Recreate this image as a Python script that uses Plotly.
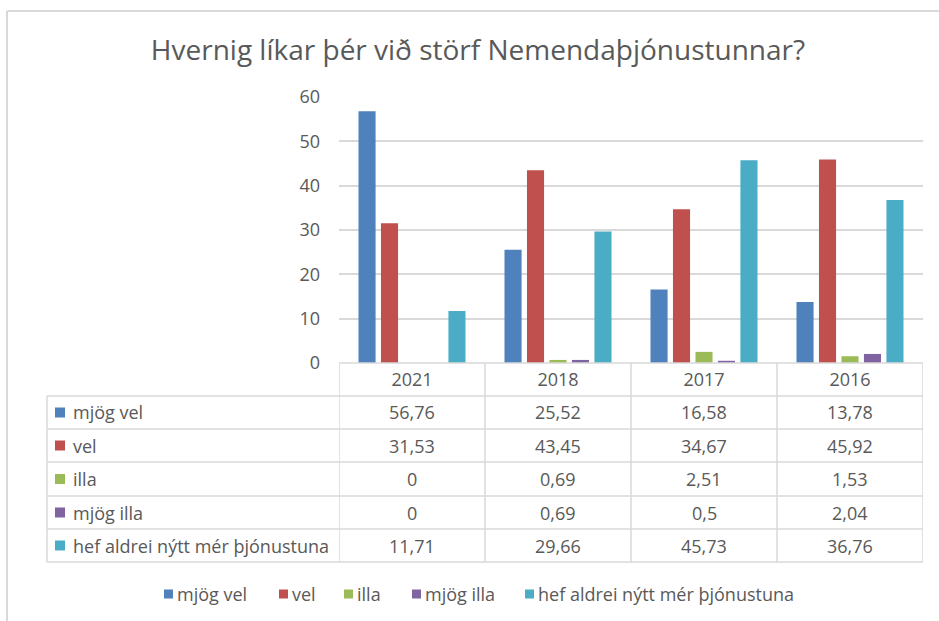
import plotly.graph_objects as go

# ---------------- data ----------------
categories = ["2021", "2018", "2017", "2016"]
series_names = ["mjög vel", "vel", "illa", "mjög illa", "hef aldrei nýtt mér þjónustuna"]
mjog_vel = [56.76, 25.52, 16.58, 13.78]
vel = [31.53, 43.45, 34.67, 45.92]
illa = [0, 0.69, 2.51, 1.53]
mjog_illa = [0, 0.69, 0.5, 2.04]
hef_aldrei = [11.71, 29.66, 45.73, 36.76]
y_ticks = [0, 10, 20, 30, 40, 50, 60]
title_text = "Hvernig líkar þér við störf Nemendaþjónustunnar?"

series_values = [mjog_vel, vel, illa, mjog_illa, hef_aldrei]
colors = ["#4F81BD", "#C0504D", "#9BBB59", "#8064A2", "#4BACC6"]

# ---------------- layout helpers ----------------
W, H = 939, 621
FONT = "Open Sans"
TXT = "#595959"
GRID = "#D9D9D9"
FS = 18


def px(x):
    return x / W


def py(y):
    return 1 - y / H


def fmt(v):
    return f"{v:g}".replace(".", ",")


fig = go.Figure()
for name, vals, col in zip(series_names, series_values, colors):
    fig.add_trace(go.Bar(x=categories, y=vals, name=name, marker_color=col,
                         marker_line_width=0, showlegend=False))

shapes = []
annotations = []
LINE = dict(color=GRID, width=1.5)
ncat = len(categories)

# outer chart frame
shapes.append(dict(type="line", xref="paper", yref="paper", x0=px(7), x1=1,
                   y0=py(11), y1=py(11), line=dict(color=GRID, width=2)))
shapes.append(dict(type="line", xref="paper", yref="paper", x0=px(7), x1=px(7),
                   y0=py(11), y1=0, line=dict(color=GRID, width=2)))

# data table
row_lines = [396, 429, 462, 496, 529, 562]
table_left = 47
header_top = 363
shapes.append(dict(type="line", xref="x", yref="paper", x0=-0.5, x1=ncat - 0.5,
                   y0=py(header_top), y1=py(header_top), line=LINE))
for yl in row_lines:
    shapes.append(dict(type="line", xref="paper", yref="paper", x0=px(table_left), x1=px(923),
                       y0=py(yl), y1=py(yl), line=LINE))
shapes.append(dict(type="line", xref="paper", yref="paper", x0=px(table_left), x1=px(table_left),
                   y0=py(row_lines[0]), y1=py(row_lines[-1]), line=LINE))
for i in range(ncat + 1):
    shapes.append(dict(type="line", xref="x", yref="paper", x0=i - 0.5, x1=i - 0.5,
                       y0=py(header_top), y1=py(row_lines[-1]), line=LINE))

for r, (name, vals, col) in enumerate(zip(series_names, series_values, colors)):
    yc = (row_lines[r] + row_lines[r + 1]) / 2
    shapes.append(dict(type="rect", xref="paper", yref="paper", x0=px(55), x1=px(65),
                       y0=py(yc - 5), y1=py(yc + 5), fillcolor=col, line=dict(width=0)))
    annotations.append(dict(x=px(71), y=py(yc), xref="paper", yref="paper", text=name,
                            showarrow=False, xanchor="left", yanchor="middle",
                            font=dict(family=FONT, size=FS, color=TXT)))
    for ci, v in enumerate(vals):
        annotations.append(dict(x=ci, y=py(yc), xref="x", yref="paper", text=fmt(v),
                                showarrow=False, xanchor="center", yanchor="middle",
                                font=dict(family=FONT, size=FS, color=TXT)))

# bottom legend
legend_x = [164, 279, 344, 412, 525]
ly = 594
for name, col, lx in zip(series_names, colors, legend_x):
    shapes.append(dict(type="rect", xref="paper", yref="paper", x0=px(lx), x1=px(lx + 9),
                       y0=py(ly - 4.5), y1=py(ly + 4.5), fillcolor=col, line=dict(width=0)))
    annotations.append(dict(x=px(lx + 11), y=py(ly), xref="paper", yref="paper", text=name,
                            showarrow=False, xanchor="left", yanchor="middle",
                            font=dict(family=FONT, size=FS, color=TXT)))

fig.update_layout(
    width=W, height=H, autosize=False,
    margin=dict(l=0, r=0, t=0, b=0, pad=0, autoexpand=False),
    paper_bgcolor="white", plot_bgcolor="white",
    title=dict(text=title_text, x=px(478), xanchor="center", y=py(50), yanchor="middle",
               font=dict(family=FONT, size=28, color=TXT), automargin=False),
    barmode="group", bargap=0.23, bargroupgap=0.24,
    xaxis=dict(domain=[px(339), px(923)], type="category", range=[-0.5, ncat - 0.5],
               showgrid=False, showline=False, zeroline=False, ticks="", automargin=False,
               tickfont=dict(family=FONT, size=FS, color=TXT), ticklabelstandoff=4),
    yaxis=dict(domain=[py(363), py(97)], range=[0, 60], tickvals=y_ticks, automargin=False,
               showgrid=True, gridcolor=GRID, gridwidth=1.5, zeroline=False, showline=False,
               tickfont=dict(family=FONT, size=FS, color=TXT), ticklabelstandoff=18),
    shapes=shapes, annotations=annotations,
    font=dict(family=FONT, color=TXT),
)

fig.write_html(
    "out.html",
    config={"responsive": False, "displayModeBar": False},
    post_script="document.body.style.margin='0';document.body.style.overflow='hidden';",
)
